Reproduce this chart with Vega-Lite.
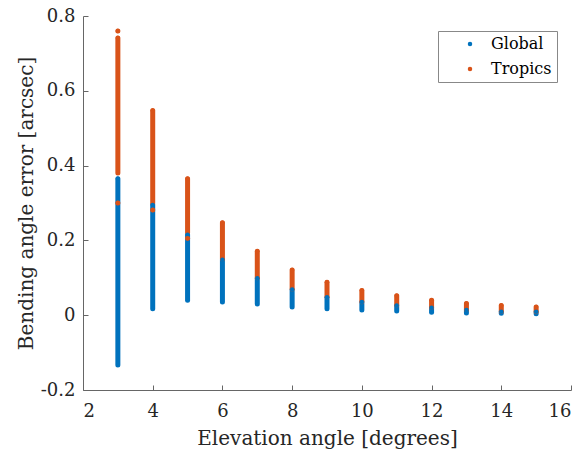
{
  "$schema": "https://vega.github.io/schema/vega-lite/v6.json",
  "width": 488,
  "height": 374,
  "autosize": {"type": "none"},
  "padding": {"left": 83, "top": 16, "right": 11, "bottom": 66},
  "background": "white",
  "config": {
    "view": {"stroke": null},
    "font": "DejaVu Serif",
    "axis": {
      "labelFont": "DejaVu Serif",
      "titleFont": "DejaVu Serif",
      "labelFontSize": 18,
      "titleFontSize": 20,
      "labelColor": "#262626",
      "titleColor": "#262626",
      "titleFontWeight": "normal",
      "domainColor": "#666666",
      "tickColor": "#666666",
      "grid": false,
      "tickSize": -5
    }
  },
  "data": {
    "values": [
      {"elev": 3, "lo": -0.133, "hi": 0.365, "series": "Global"},
      {"elev": 4, "lo": 0.017, "hi": 0.295, "series": "Global"},
      {"elev": 5, "lo": 0.04, "hi": 0.215, "series": "Global"},
      {"elev": 6, "lo": 0.035, "hi": 0.148, "series": "Global"},
      {"elev": 7, "lo": 0.03, "hi": 0.099, "series": "Global"},
      {"elev": 8, "lo": 0.022, "hi": 0.069, "series": "Global"},
      {"elev": 9, "lo": 0.017, "hi": 0.048, "series": "Global"},
      {"elev": 10, "lo": 0.014, "hi": 0.035, "series": "Global"},
      {"elev": 11, "lo": 0.011, "hi": 0.026, "series": "Global"},
      {"elev": 12, "lo": 0.008, "hi": 0.02, "series": "Global"},
      {"elev": 13, "lo": 0.006, "hi": 0.014, "series": "Global"},
      {"elev": 14, "lo": 0.005, "hi": 0.009, "series": "Global"},
      {"elev": 15, "lo": 0.004, "hi": 0.009, "series": "Global"},
      {"elev": 3, "lo": 0.38, "hi": 0.741, "series": "Tropics"},
      {"elev": 3, "lo": 0.30, "hi": 0.30, "series": "Tropics"},
      {"elev": 3, "lo": 0.76, "hi": 0.76, "series": "Tropics"},
      {"elev": 4, "lo": 0.30, "hi": 0.547, "series": "Tropics"},
      {"elev": 4, "lo": 0.281, "hi": 0.281, "series": "Tropics"},
      {"elev": 5, "lo": 0.222, "hi": 0.365, "series": "Tropics"},
      {"elev": 5, "lo": 0.206, "hi": 0.206, "series": "Tropics"},
      {"elev": 6, "lo": 0.15, "hi": 0.247, "series": "Tropics"},
      {"elev": 7, "lo": 0.10, "hi": 0.171, "series": "Tropics"},
      {"elev": 8, "lo": 0.07, "hi": 0.121, "series": "Tropics"},
      {"elev": 9, "lo": 0.049, "hi": 0.088, "series": "Tropics"},
      {"elev": 10, "lo": 0.036, "hi": 0.066, "series": "Tropics"},
      {"elev": 11, "lo": 0.027, "hi": 0.052, "series": "Tropics"},
      {"elev": 12, "lo": 0.021, "hi": 0.04, "series": "Tropics"},
      {"elev": 13, "lo": 0.015, "hi": 0.031, "series": "Tropics"},
      {"elev": 14, "lo": 0.01, "hi": 0.026, "series": "Tropics"},
      {"elev": 15, "lo": 0.009, "hi": 0.022, "series": "Tropics"}
    ]
  },
  "encoding": {
    "x": {
      "field": "elev",
      "type": "quantitative",
      "scale": {"domain": [2, 16], "nice": false, "zero": false},
      "axis": {
        "title": "Elevation angle [degrees]",
        "values": [2, 4, 6, 8, 10, 12, 14, 16],
        "labelPadding": 17,
        "titlePadding": 8
      }
    },
    "y": {
      "field": "lo",
      "type": "quantitative",
      "scale": {"domain": [-0.2, 0.8], "nice": false, "zero": false},
      "axis": {
        "title": "Bending angle error [arcsec]",
        "values": [-0.2, 0, 0.2, 0.4, 0.6, 0.8],
        "labelExpr": "datum.value < -0.01 ? '-' + format(-datum.value, '.1f') : (abs(datum.value) < 0.01 ? '0' : format(datum.value, '.1f'))",
        "labelPadding": 13,
        "titlePadding": 4
      }
    },
    "color": {
      "field": "series",
      "type": "nominal",
      "scale": {"domain": ["Global", "Tropics"], "range": ["#0072BD", "#D95319"]},
      "legend": {
        "title": null,
        "orient": "none",
        "legendX": 355,
        "legendY": 15,
        "padding": 5,
        "strokeColor": "#888888",
        "fillColor": "white",
        "symbolType": "circle",
        "symbolSize": 20,
        "symbolStrokeWidth": 0,
        "symbolOffset": 19,
        "labelOffset": 13,
        "labelFont": "DejaVu Serif",
        "labelFontSize": 16,
        "labelColor": "#000000",
        "rowPadding": 9
      }
    }
  },
  "layer": [
    {
      "mark": {"type": "rule", "strokeWidth": 5, "strokeCap": "round"},
      "encoding": {
        "y2": {"field": "hi"}
      }
    },
    {
      "mark": {"type": "point", "filled": true, "size": 20, "opacity": 1},
      "encoding": {
        "y": {"field": "hi", "type": "quantitative"}
      }
    }
  ]
}
